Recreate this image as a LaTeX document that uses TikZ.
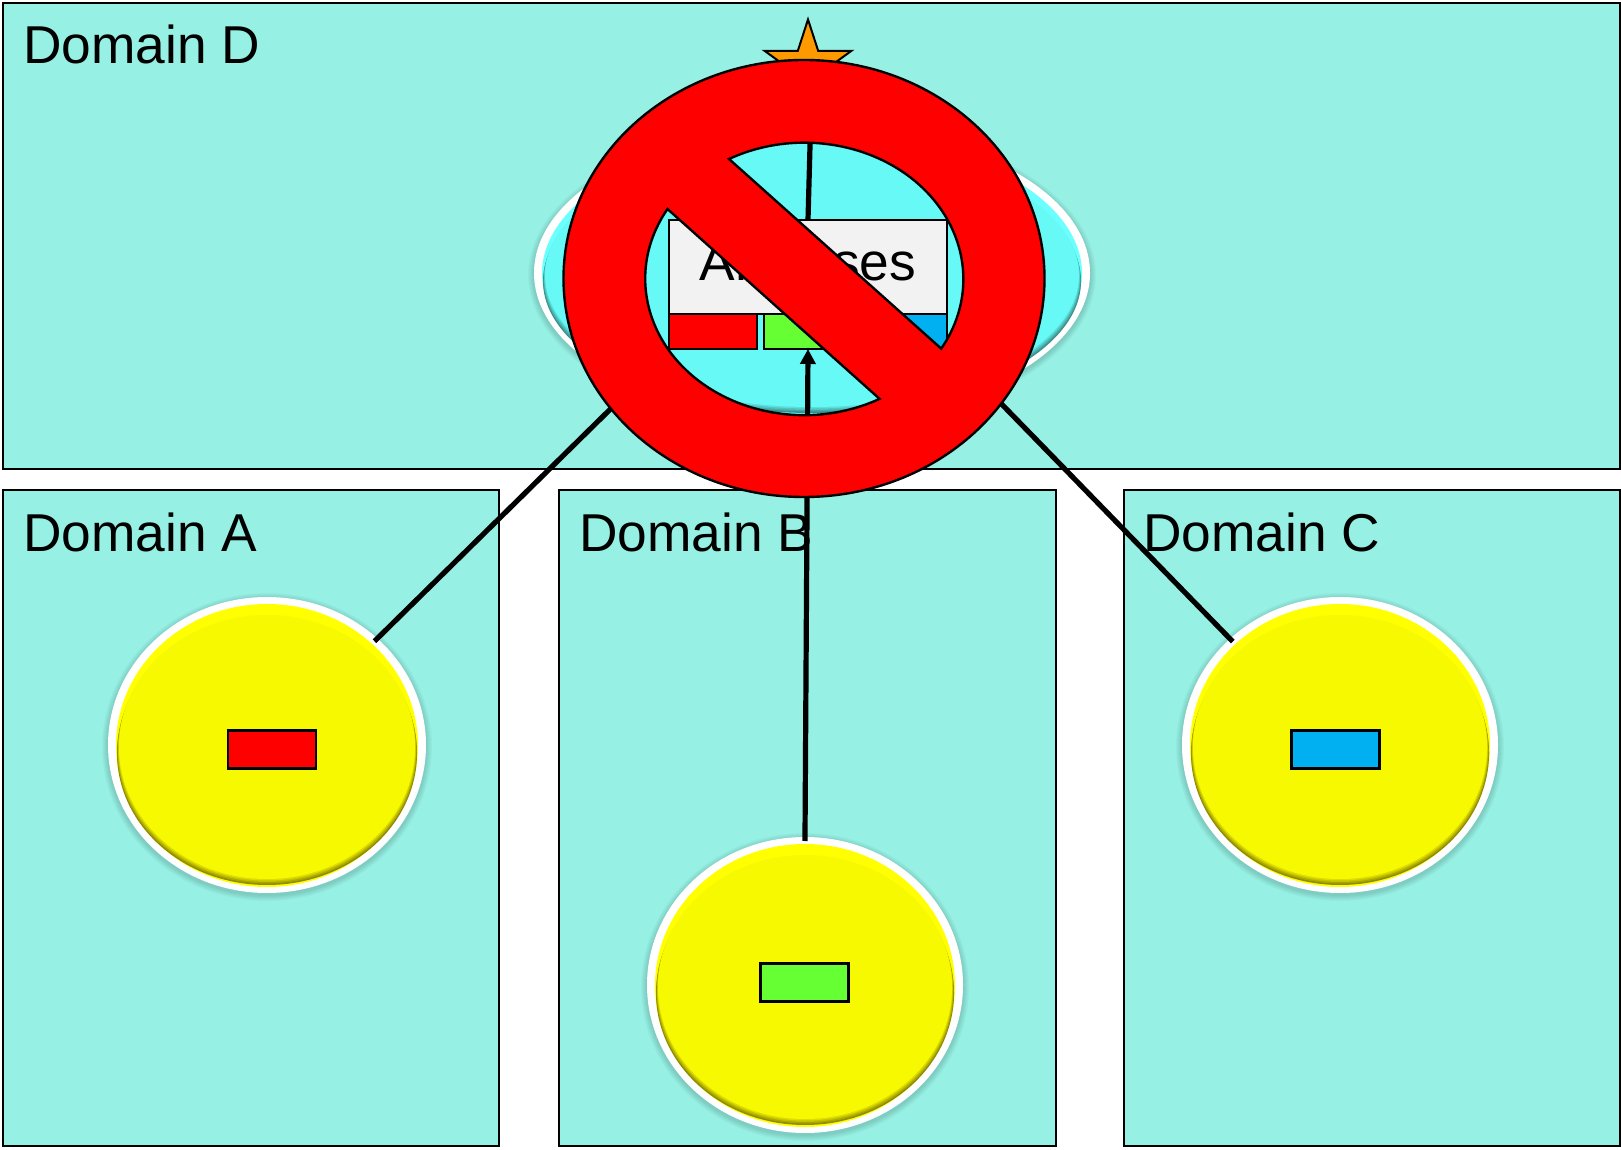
\documentclass[tikz,border=0pt]{standalone}
\usepackage{fontspec}
\setmainfont{Liberation Sans}
\usetikzlibrary{arrows.meta,shapes.geometric}
\definecolor{domainfill}{HTML}{96F0E4}
\definecolor{sunflat}{HTML}{F7F900}
\definecolor{sunrim}{HTML}{FFFF00}
\definecolor{sundark}{HTML}{8F8A00}
\definecolor{aquaflat}{HTML}{66F9F5}
\definecolor{aquarim}{HTML}{6CFFFF}
\definecolor{aquadark}{HTML}{3A8F8C}
\definecolor{tagred}{HTML}{FF0000}
\definecolor{taggreen}{HTML}{66FF33}
\definecolor{tagblue}{HTML}{00B0F0}
\definecolor{boxgrey}{HTML}{F2F2F2}
\definecolor{starorange}{HTML}{FF9900}
\tikzset{
    domainbox/.style={draw=black,line width=2.2pt,fill=domainfill},
    domainlabel/.style={anchor=base west,inner sep=0pt,font=\fontsize{53.3}{60}\selectfont},
    host/.style={ellipse,fill=white,inner sep=0pt,outer sep=0pt},
    tag/.style={draw=black,line width=2.4pt,inner sep=0pt,outer sep=0pt,minimum width=88pt,minimum height=38pt},
    link/.style={draw=black,line width=5.2pt},
}
\begin{document}
\begin{tikzpicture}[x=1pt,y=1pt]
    \useasboundingbox (0,0) rectangle (1621,1149);
    \fill [white] (0,0) rectangle (1621,1149);
    \draw [domainbox] (3,680) rectangle (1620,1146);
    \draw [domainbox] (3,3) rectangle (499,659);
    \draw [domainbox] (559,3) rectangle (1056,659);
    \draw [domainbox] (1124,3) rectangle (1620,659);
    \node [domainlabel] (labelD) at (23,1085) {Domain D};
    \node [domainlabel] (labelA) at (23,597) {Domain A};
    \node [domainlabel] (labelB) at (579,597) {Domain B};
    \node [domainlabel] (labelC) at (1143,597) {Domain C};
    \node [star,star points=5,star point ratio=2.618,draw=black,line width=2pt,fill=starorange,
        inner sep=0pt,minimum size=91pt] (alert) at (808,1084) {};
    \coordinate (alertfoot) at (811,1040);
    \foreach \n/\cx/\cy/\rx/\rim/\flat/\dark in {
        A/267/404/159/sunrim/sunflat/sundark,
        B/805/164/158/sunrim/sunflat/sundark,
        C/1340/404/158/sunrim/sunflat/sundark,
        D/812/876/278/aquarim/aquaflat/aquadark} {
        \foreach \i in {1,...,6} {
            \fill [black,opacity=0.025] (\cx,\cy-2) ellipse ({\rx+\i} and {148+\i});
        }
        \node [host,minimum width={2*\rx},minimum height=296pt] (host\n) at (\cx,\cy) {};
        \fill [\rim] (\cx,\cy-0.5) ellipse ({\rx-8} and 141.5);
        \foreach \i/\pct in {0/0,1/25,2/50,3/75,4/100} {
            \fill [\flat!\pct!\dark] (\cx,\cy-8+1.5*\i) ellipse ({\rx-9-0.5*\i} and 132);
        }
    }
    \node [tag,fill=tagred] (markA) at (272,399.5) {};
    \node [tag,fill=taggreen] (markB) at (804.5,166.5) {};
    \node [tag,fill=tagblue] (markC) at (1335.5,399.5) {};
    \coordinate (endA) at (642,771);
    \coordinate (endC) at (985,762);
    \draw [link,shorten <=-4pt] (hostA.44) -- (endA);
    \draw [link,shorten <=-4pt] (hostC.136) -- (endC);
    \node [draw=black,line width=2.2pt,fill=boxgrey,inner sep=0pt,outer sep=0pt,minimum width=278pt,minimum height=94pt,
        font=\fontsize{53.3}{60}\selectfont] (analyses) at (808,882) {Analyses};
    \draw [link] (alertfoot) -- (analyses.north);
    \node [tag,fill=tagred,minimum height=35pt,anchor=north west] (keyA) at (analyses.south west) {};
    \node [tag,fill=tagblue,minimum height=35pt,anchor=north east] (keyC) at (analyses.south east) {};
    \node [tag,fill=taggreen,minimum height=35pt,anchor=north] (keyB) at (analyses.south) {};
    \draw [link,shorten <=-4pt,-{Triangle[length=15pt,width=15pt]}] (hostB.north) -- (keyB.south);
    \draw [line width=2.4pt,draw=black,fill=red,even odd rule]
        (804,870.5) ellipse (240.5 and 218.5)
        (729,990) arc [start angle=118.3,end angle=-30.6,x radius=159,y radius=136.5] -- cycle
        (667.5,940) arc [start angle=149.3,end angle=298.3,x radius=159,y radius=136.5] -- cycle;
\end{tikzpicture}
\end{document}
